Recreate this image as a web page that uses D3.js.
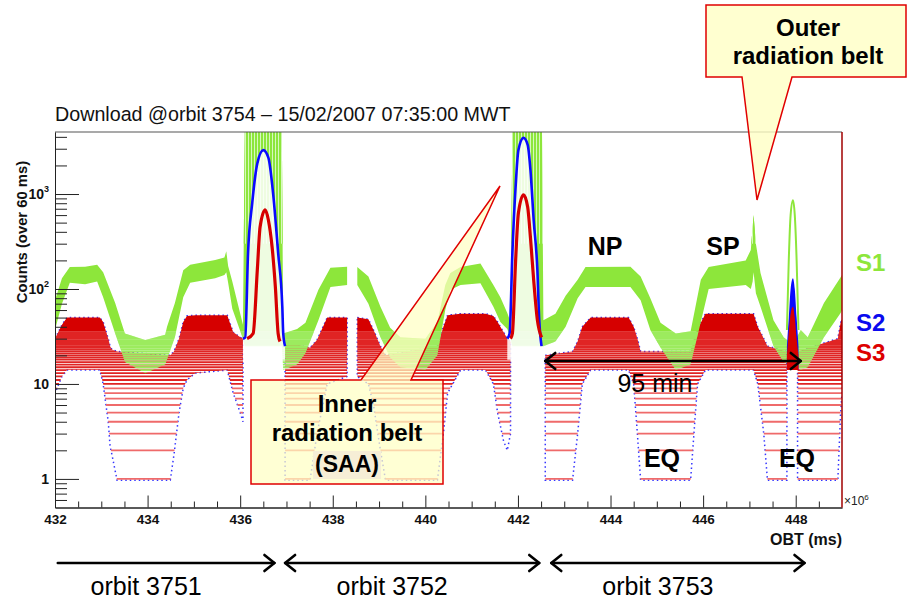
<!DOCTYPE html>
<html>
<head>
<meta charset="utf-8">
<script src="https://cdn.jsdelivr.net/npm/d3@7"></script>
<style>
  body { margin: 0; background: #fff; }
  svg { display: block; font-family: "Liberation Sans", Arial, sans-serif; }
</style>
</head>
<body>
<div id="chart"></div>
<script>
// ---- data (time in 10^6 ms, counts per 60 ms) ----
// S1 envelope (null = data gap)
var s1Time = [432.00, 432.15, 432.32, 432.65, 432.91, 433.04, 433.30, 433.51, 433.95, 434.38, 434.42, 434.59, 434.77, 434.92, 435.46, 435.66, 435.70, 435.74, 435.83, 436.06,
              436.10, 436.90, 436.93, 437.23, 437.41, 437.69, 437.95, 438.31, null,
              438.53, 438.77, 439.03, 439.24, 439.46, 440.00, 440.26, 440.43, 440.54, 440.76, 441.19, 441.47, 441.62, 441.77, 441.84,
              441.88, 442.52, 442.55, 442.81, 443.03, 443.29, 443.46, 444.43, 444.65, 444.86, 445.08, 445.41, 445.73, 445.95, 446.12,
              446.92, 447.03, 447.07, 447.09, 447.14, 447.24, 447.52, 447.74, 447.94, 448.11, 448.26, 448.61, 448.97, 449.00];
var s1Lo = [37, 70, 116, 112, 120, 82, 34, 17, 13, 16, 18, 31, 82, 116, 130, 140, 150, 116, 62, 30,
            25, 25, 14, 16, 21, 47, 105, 110, null,
            110, 70, 31, 19, 15, 14, 20, 60, 98, 110, 115, 65, 45, 38, 30,
            25, 25, 25, 28, 40, 80, 105, 105, 76, 37, 24, 14, 16, 45, 100,
            110, 100, 120, 150, 90, 65, 25, 17, 16, 14, 15, 31, 56, 60];
var s1Hi = [76, 130, 170, 172, 180, 150, 71, 34, 29, 33, 40, 71, 158, 180, 202, 215, 250, 175, 120, 42,
            4500, 4500, 34, 38, 44, 98, 167, 172, null,
            170, 135, 65, 39, 31, 30, 45, 110, 147, 170, 185, 110, 82, 56, 45,
            4500, 4500, 47, 55, 85, 125, 170, 172, 135, 80, 44, 34, 36, 125, 170,
            200, 257, 450, 600, 300, 147, 47, 31, 26, 37, 31, 71, 133, 140];

// S3 envelope (null = SAA or data gap)
var s3Time = [432.00, 432.15, 432.26, 432.97, 433.04, 433.15, 433.19, 433.23, 433.34, 434.49, 434.57, 434.68, 434.77, 434.85, 435.03, 435.72, 435.85, 436.00, 436.06, null,
              436.97, 437.51, 437.66, 437.88, 438.31, null,
              438.53, 438.77, 438.88, 439.03, 439.14, 440.26, 440.39, 440.48, 440.76, 441.30, 441.47, 441.56, 441.69, 441.77, 441.84, null,
              442.59, 443.18, 443.29, 443.39, 443.57, 444.39, 444.50, 444.58, 444.65, 445.73, 445.82, 445.88, 446.05, 447.09, 447.18, 447.31, 447.39, 447.81, null,
              448.04, 448.91, 448.97, 449.00];
var s3Lo = [8, 12, 14, 14, 10, 4, 2.2, 1.8, 0.97, 0.97, 1.8, 5, 9, 11, 13, 14, 8, 5, 4, null,
            0.97, 0.97, 3, 10, 12, null,
            12, 10, 6, 2, 0.97, 0.97, 3, 8, 14, 14, 10, 5, 2.5, 2, 3, null,
            0.97, 0.97, 3, 10, 14, 14, 10, 3, 0.97, 0.97, 4, 10, 14, 14, 10, 3, 0.97, 0.97, null,
            0.97, 0.97, 5, 8];
var s3Hi = [30, 42, 50, 50, 45, 30, 25, 23, 22, 20, 22, 30, 45, 52, 53, 53, 35, 31, 30, null,
            28, 24, 29, 50, 50, null,
            50, 48, 37, 25, 20, 25, 40, 53, 55, 55, 52, 45, 35, 30, 28, null,
            20, 22, 28, 40, 50, 50, 40, 30, 22, 22, 30, 38, 55, 55, 40, 30, 25, 22, null,
            22, 30, 44, 48];

// SAA traces (inner radiation belt)
var s2Arc1Time = [436.06, 436.11, 436.17, 436.26, 436.37, 436.50, 436.61, 436.71, 436.82, 436.91, 436.93, 436.97];
var s2Arc1 = [30, 31, 240, 800, 2100, 2900, 2400, 1030, 240, 65, 34, 25];
var s3Arc1Time = [436.15, 436.28, 436.37, 436.43, 436.54, 436.61, 436.69, 436.76, 436.82, 436.86];
var s3Arc1 = [30, 34, 158, 450, 680, 530, 275, 105, 34, 28];
var s2Arc2Time = [441.77, 441.82, 441.88, 441.95, 442.01, 442.12, 442.21, 442.27, 442.34, 442.42, 442.46, 442.51];
var s2Arc2 = [30, 34, 240, 1200, 2900, 3900, 3300, 1800, 530, 158, 47, 25];
var s3Arc2Time = [441.84, 441.88, 441.95, 442.01, 442.12, 442.21, 442.27, 442.34, 442.42, 442.51];
var s3Arc2 = [30, 34, 200, 630, 980, 730, 350, 124, 47, 31];

// outer belt crossing
var spikeTime = [447.81, 447.85, 447.89, 447.94, 447.98, 448.02, 448.06];
var s1Spike = [37, 200, 600, 860, 600, 200, 37];
var s2Spike = [25, 50, 100, 130, 100, 50, 25];
var s3Spike = [20, 35, 55, 65, 50, 30, 20];
var spikeBase = [14, 14, 14, 14, 14, 14, 14];

// axes
var xMajor = [432, 434, 436, 438, 440, 442, 444, 446, 448];
var yMajor = [1, 10, 100, 1000];
var yMajorLabels = [["1", ""], ["10", ""], ["10", "2"], ["10", "3"]];
var yMinorSteps = [2, 3, 4, 5, 6, 7, 8, 9];

// orbit annotations
var orbitNames = ["orbit 3751", "orbit 3752", "orbit 3753"];
var orbitStart = [432.06, 436.97, 442.72];
var orbitEnd = [436.74, 442.46, 448.19];
var periodStart = 442.59, periodEnd = 448.11;

// ---- chart ----
var width = 909, height = 599;
var x = d3.scaleLinear().domain([432, 449]).range([55, 842]);
var y = d3.scaleLog().domain([0.5, 4500]).range([507.5, 132]);

var svg = d3.select("#chart").append("svg")
    .attr("width", width)
    .attr("height", height);
var defs = svg.append("defs");

defs.append("clipPath").attr("id", "plotClip")
    .append("rect")
    .attr("x", x(432)).attr("y", y(4500))
    .attr("width", x(449) - x(432)).attr("height", y(0.5) - y(4500));

// saturated S1 in the belts looks like thin vertical streaks
var pat = defs.append("pattern").attr("id", "streaks")
    .attr("patternUnits", "userSpaceOnUse").attr("width", 3).attr("height", 10);
pat.append("rect").attr("width", 3).attr("height", 10).attr("fill", "#8de63b");
pat.append("rect").attr("x", 2).attr("width", 1).attr("height", 10).attr("fill", "#d6f8be");

var plot = svg.append("g").attr("clip-path", "url(#plotClip)");

function rows(time, lo, hi) {
    return time.map(function(t, i) {
        return t === null ? null : {t: t, lo: lo[i], hi: hi[i]};
    });
}

var band = d3.area()
    .defined(function(d) { return d !== null; })
    .x(function(d) { return x(d.t); })
    .y0(function(d) { return y(d.lo); })
    .y1(function(d) { return y(d.hi); });

// counts are integers, so low rates show up as separate horizontal levels
var levels = d3.range(1, 36);

function stripedBand(id, data, solid, mid, low, topFill) {
    defs.append("clipPath").attr("id", id)
        .append("path").attr("d", band(data));
    var g = plot.append("g").attr("clip-path", "url(#" + id + ")");
    g.append("rect")
        .attr("x", x(432)).attr("width", x(449) - x(432))
        .attr("y", y(4500)).attr("height", y(35.5) - y(4500))
        .attr("fill", solid);
    if (topFill) {
        g.append("rect")
            .attr("x", x(432)).attr("width", x(449) - x(432))
            .attr("y", y(4500)).attr("height", y(300) - y(4500))
            .attr("fill", topFill);
    }
    g.selectAll("line").data(levels).enter().append("line")
        .attr("x1", x(432)).attr("x2", x(449))
        .attr("y1", function(d) { return y(d); })
        .attr("y2", function(d) { return y(d); })
        .attr("stroke", function(d) { return d < 10 ? low : mid; })
        .attr("stroke-width", 1.8);
}

var s1Data = rows(s1Time, s1Lo, s1Hi);
var s3Data = rows(s3Time, s3Lo, s3Hi);

// S2 sits just around S3 outside the belts: shows as blue specks on the edges
plot.append("path")
    .attr("d", band(s3Data))
    .attr("fill", "none")
    .attr("stroke", "#1010ff")
    .attr("stroke-opacity", 0.85)
    .attr("stroke-width", 1.5)
    .attr("stroke-dasharray", "1.5 3");

stripedBand("s3Clip", s3Data, "#d60000", "#e02424", "#ef6a6a", null);
stripedBand("s1Clip", s1Data, "#8de63b", "#9ceb5e", "#a6ee6c", "url(#streaks)");

// inside the SAA traces only sparse S1 points
var arcFill = d3.area()
    .curve(d3.curveMonotoneX)
    .x(function(d) { return x(d[0]); })
    .y0(y(18))
    .y1(function(d) { return y(d[1]); });

[[s2Arc1Time, s2Arc1], [s2Arc2Time, s2Arc2]].forEach(function(a) {
    plot.append("path")
        .datum(a[0].map(function(t, i) { return [t, a[1][i]]; }))
        .attr("d", arcFill)
        .attr("fill", "#fff")
        .attr("opacity", 0.85);
});

// outer belt: S2 and S3 peaks
var spikeArea = d3.area()
    .curve(d3.curveMonotoneX)
    .x(function(d) { return x(d.t); })
    .y0(function(d) { return y(d.lo); })
    .y1(function(d) { return y(d.hi); });

plot.append("path").attr("d", spikeArea(rows(spikeTime, spikeBase, s2Spike))).attr("fill", "#0a0aff");
plot.append("path").attr("d", spikeArea(rows(spikeTime, spikeBase, s3Spike))).attr("fill", "#d60000");

var trace = d3.line()
    .curve(d3.curveMonotoneX)
    .x(function(d) { return x(d[0]); })
    .y(function(d) { return y(d[1]); });

function drawTrace(time, vals, color, w) {
    plot.append("path")
        .datum(time.map(function(t, i) { return [t, vals[i]]; }))
        .attr("d", trace)
        .attr("fill", "none")
        .attr("stroke", color)
        .attr("stroke-width", w);
}

drawTrace(spikeTime, s1Spike, "#8de63b", 2);
drawTrace(s2Arc1Time, s2Arc1, "#0a0aff", 2.6);
drawTrace(s2Arc2Time, s2Arc2, "#0a0aff", 2.6);
drawTrace(s3Arc1Time, s3Arc1, "#d60000", 3.2);
drawTrace(s3Arc2Time, s3Arc2, "#d60000", 3.2);

// ---- axes ----
var yMinor = [];
[0.1, 1, 10, 100, 1000].forEach(function(dec) {
    yMinorSteps.forEach(function(s) {
        var v = dec * s;
        if (v >= 0.55 && v <= 4500) yMinor.push(v);
    });
});
var xMinor = d3.range(432.5, 449, 0.5).filter(function(v) { return v % 2 !== 0; });

var axisG = svg.append("g").attr("class", "axes");

axisG.append("g")
    .attr("transform", "translate(" + x(432) + ",0)")
    .call(d3.axisLeft(y).tickValues(yMinor).tickSize(-12).tickSizeOuter(0).tickFormat(""));
axisG.append("g")
    .attr("transform", "translate(" + x(432) + ",0)")
    .call(d3.axisLeft(y).tickValues(yMajor).tickSize(-24).tickSizeOuter(0).tickFormat(""));

axisG.append("g")
    .attr("transform", "translate(0," + y(0.5) + ")")
    .call(d3.axisBottom(x).tickValues(xMinor).tickSize(-6).tickSizeOuter(0).tickFormat(""));
axisG.append("g")
    .attr("class", "x-axis")
    .attr("transform", "translate(0," + y(0.5) + ")")
    .call(d3.axisBottom(x).tickValues(xMajor).tickSize(-12).tickSizeOuter(0).tickPadding(7).tickFormat(d3.format("d")));

axisG.selectAll("path.domain, line").attr("stroke", "#222");
axisG.selectAll(".x-axis text")
    .attr("font-family", "'Liberation Sans', Arial, sans-serif")
    .attr("font-weight", "bold")
    .attr("font-size", 13.5)
    .attr("fill", "#111");

yMajor.forEach(function(v, i) {
    var t = svg.append("text")
        .attr("x", x(432) - 6)
        .attr("y", y(v) + 5)
        .attr("text-anchor", "end")
        .attr("font-weight", "bold")
        .attr("font-size", 14)
        .attr("fill", "#111");
    t.append("tspan").text(yMajorLabels[i][0]);
    if (yMajorLabels[i][1]) {
        t.append("tspan").attr("font-size", 9).attr("dy", -7).text(yMajorLabels[i][1]);
    }
});

// frame
svg.append("line").attr("x1", x(432)).attr("x2", x(449)).attr("y1", y(4500)).attr("y2", y(4500))
    .attr("stroke", "#555").attr("stroke-width", 1.2);
svg.append("line").attr("x1", x(449)).attr("x2", x(449)).attr("y1", y(4500)).attr("y2", y(0.5))
    .attr("stroke", "#a00000").attr("stroke-width", 1.5);

// titles
svg.append("text")
    .attr("x", 55).attr("y", 121)
    .attr("font-size", 19.7)
    .attr("fill", "#111")
    .text("Download @orbit 3754 \u2013 15/02/2007 07:35:00 MWT");

svg.append("text")
    .attr("transform", "translate(27,232) rotate(-90)")
    .attr("text-anchor", "middle")
    .attr("font-weight", "bold")
    .attr("font-size", 14.8)
    .attr("fill", "#111")
    .text("Counts (over 60 ms)");

svg.append("text")
    .attr("x", 842).attr("y", 545)
    .attr("text-anchor", "end")
    .attr("font-weight", "bold")
    .attr("font-size", 16)
    .attr("fill", "#111")
    .text("OBT (ms)");

var mult = svg.append("text").attr("x", 844).attr("y", 505).attr("font-size", 12).attr("fill", "#222");
mult.append("tspan").text("\u00d710");
mult.append("tspan").attr("font-size", 8).attr("dy", -5).text("6");

// legend
var legend = [["S1", "#8de63b", 271], ["S2", "#0a0aee", 331], ["S3", "#dd0000", 361]];
legend.forEach(function(l) {
    svg.append("text")
        .attr("x", 856).attr("y", l[2])
        .attr("font-weight", "bold").attr("font-size", 24)
        .attr("fill", l[1])
        .text(l[0]);
});

// region labels
var regionLabels = [["NP", 605, 255], ["SP", 723, 255], ["EQ", 662, 467], ["EQ", 797, 467]];
regionLabels.forEach(function(r) {
    svg.append("text")
        .attr("x", r[1]).attr("y", r[2])
        .attr("text-anchor", "middle")
        .attr("font-weight", "bold").attr("font-size", 25)
        .attr("fill", "#000")
        .text(r[0]);
});

function doubleArrow(x1, x2, yy, left, right, w) {
    var g = svg.append("g").attr("stroke", "#000").attr("stroke-width", w).attr("fill", "none")
        .attr("stroke-linecap", "round").attr("stroke-linejoin", "round");
    g.append("line").attr("x1", x1).attr("x2", x2).attr("y1", yy).attr("y2", yy);
    if (left) g.append("polyline").attr("points", (x1 + 10) + "," + (yy - 8) + " " + x1 + "," + yy + " " + (x1 + 10) + "," + (yy + 8));
    if (right) g.append("polyline").attr("points", (x2 - 10) + "," + (yy - 8) + " " + x2 + "," + yy + " " + (x2 - 10) + "," + (yy + 8));
}

// 95 min period
doubleArrow(x(periodStart), x(periodEnd), 361, true, true, 2.6);
svg.append("text").attr("x", 655).attr("y", 392).attr("text-anchor", "middle")
    .attr("font-size", 25).attr("fill", "#000").text("95 min");

// orbits
orbitNames.forEach(function(n, i) {
    doubleArrow(x(orbitStart[i]), x(orbitEnd[i]), 563, i > 0, true, 2.6);
    svg.append("text")
        .attr("x", (x(orbitStart[i]) + x(orbitEnd[i])) / 2 - 20)
        .attr("y", 595)
        .attr("text-anchor", "middle")
        .attr("font-size", 25)
        .attr("fill", "#000")
        .text(n);
});

// callouts
svg.append("path")
    .attr("d", "M706,5 H906 V77 H792 L757,200 L742,77 H706 Z")
    .attr("fill", "#ffffc4").attr("fill-opacity", 0.8)
    .attr("stroke", "#e00000").attr("stroke-width", 1.5);
[["Outer", 36], ["radiation belt", 64]].forEach(function(t) {
    svg.append("text").attr("x", 808).attr("y", t[1]).attr("text-anchor", "middle")
        .attr("font-weight", "bold").attr("font-size", 24).attr("fill", "#000").text(t[0]);
});

svg.append("path")
    .attr("d", "M251,380 H361 L500,186 L411,380 H443 V484 H251 Z")
    .attr("fill", "#ffffc4").attr("fill-opacity", 0.72)
    .attr("stroke", "#e00000").attr("stroke-width", 1.5);
svg.append("rect").attr("x", 313).attr("y", 451).attr("width", 68).attr("height", 28).attr("fill", "#f6eed6");
[["Inner", 412, 24], ["radiation belt", 441, 24], ["(SAA)", 472, 23]].forEach(function(t) {
    svg.append("text").attr("x", 347).attr("y", t[1]).attr("text-anchor", "middle")
        .attr("font-weight", "bold").attr("font-size", t[2]).attr("fill", "#000").text(t[0]);
});
</script>
</body>
</html>
